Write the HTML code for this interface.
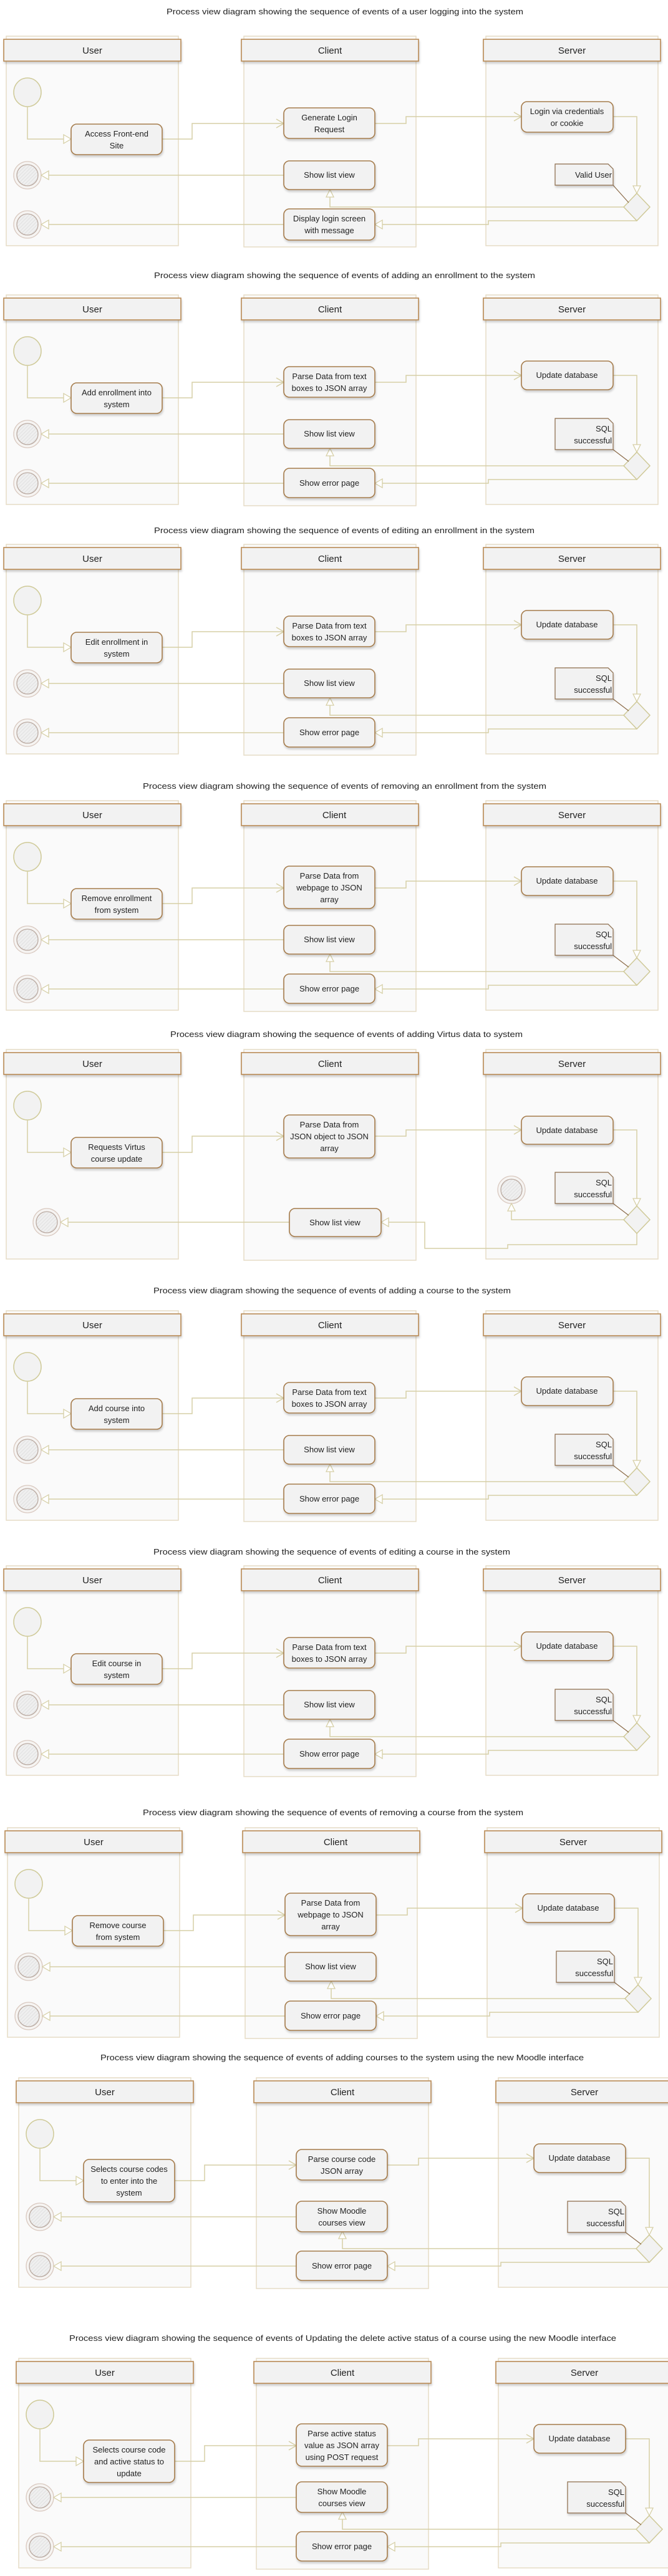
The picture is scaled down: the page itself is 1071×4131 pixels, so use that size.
<!DOCTYPE html>
<html><head><meta charset="utf-8">
<style>
html,body{margin:0;padding:0;background:#fff;}
svg{display:block;}
.ti{font-family:"Liberation Sans Narrow","Liberation Sans",sans-serif;font-size:12.5px;fill:#222;}
.h{font-family:"Liberation Sans Narrow","Liberation Sans",sans-serif;font-size:15px;fill:#222;text-anchor:middle;}
.t{font-family:"Liberation Sans Narrow","Liberation Sans",sans-serif;font-size:13px;fill:#222;text-anchor:middle;}
.n{font-family:"Liberation Sans Narrow","Liberation Sans",sans-serif;font-size:13px;fill:#222;text-anchor:end;}
.bx{fill:#f2f2f2;stroke:#a57b4c;stroke-width:1.6;filter:url(#sh);}
.c{fill:none;stroke:#d6cfa6;stroke-width:1.5;}
.a{fill:#fff;stroke:#d6cfa6;stroke-width:1.3;}
.nt{fill:#f2f2f2;stroke:#8a6a48;stroke-width:1.2;filter:url(#sh);}
</style></head>
<body>
<svg width="1071" height="4131" viewBox="0 0 1071 4131" xmlns="http://www.w3.org/2000/svg">
<defs>
<filter id="sh" x="-10%" y="-10%" width="130%" height="140%">
<feDropShadow dx="1" dy="3" stdDeviation="1.5" flood-color="#000" flood-opacity="0.18"/>
</filter>
<pattern id="hatch" width="4" height="4" patternUnits="userSpaceOnUse" patternTransform="rotate(45)">
<rect width="4" height="4" fill="#efefef"/><line x1="0" y1="0" x2="0" y2="4" stroke="#dcdcdc" stroke-width="1.5"/>
</pattern>
<g id="lanes">
<rect x="10" y="-5" width="276" height="336" fill="#fafafa" stroke="#e6dcc6" stroke-width="1.5"/>
<rect x="391" y="-5" width="276" height="338" fill="#fafafa" stroke="#e6dcc6" stroke-width="1.5"/>
<rect x="779" y="-5" width="276" height="336" fill="#fafafa" stroke="#e6dcc6" stroke-width="1.5"/>
<rect x="6" y="0" width="284" height="35" fill="#f2f2f2" stroke="#b98a55" stroke-width="1.6" filter="url(#sh)"/>
<rect x="387" y="0" width="284" height="35" fill="#f2f2f2" stroke="#b98a55" stroke-width="1.6" filter="url(#sh)"/>
<rect x="775" y="0" width="284" height="35" fill="#f2f2f2" stroke="#b98a55" stroke-width="1.6" filter="url(#sh)"/>
<ellipse cx="44" cy="85" rx="22" ry="23" fill="#f2f2f2" stroke="#cfca98" stroke-width="1.5"/>
</g>
<g id="flow">
<circle cx="44" cy="218" r="22" fill="#f6f4f2" stroke="#d9c9c0" stroke-width="1.3"/>
<circle cx="44" cy="218" r="17" fill="url(#hatch)" stroke="#b9a9a0" stroke-width="1.3"/>
<circle cx="44" cy="297" r="22" fill="#f6f4f2" stroke="#d9c9c0" stroke-width="1.3"/>
<circle cx="44" cy="297" r="17" fill="url(#hatch)" stroke="#b9a9a0" stroke-width="1.3"/>
<path class="c" d="M44,108 V160 H102"/>
<polygon class="a" points="102,153 114,160 102,167"/>
<path class="c" d="M260,160 H308 V135 H455"/>
<polyline class="c" points="443,128 455,135 443,142"/>
<path class="c" d="M601,135 H651 V124 H836"/>
<polyline class="c" points="824,117 836,124 824,131"/>
<path class="c" d="M983,124 H1021 V235"/>
<polygon class="a" points="1015,235 1021,247 1027,235"/>
<path class="c" d="M1000,269 H529 V253"/>
<polygon class="a" points="523,253 529,241 535,253"/>
<path class="c" d="M1021,291 H783 V297 H613"/>
<polygon class="a" points="613,290 601,297 613,304"/>
<path class="c" d="M455,218 H78"/>
<polygon class="a" points="78,211 66,218 78,225"/>
<path class="c" d="M455,297 H78"/>
<polygon class="a" points="78,290 66,297 78,304"/>
<polygon points="1021,247 1042,269 1021,291 1000,269" fill="#f2f2f2" stroke="#cfc998" stroke-width="1.5"/>
</g>
</defs>

<!-- D1 -->
<text class="ti" x="267" y="23" textLength="572" lengthAdjust="spacingAndGlyphs">Process view diagram showing the sequence of events of a user logging into the system</text>
<g transform="translate(0,63)">
<use href="#lanes"/><use href="#flow"/>
<text class="h" x="148" y="23">User</text><text class="h" x="529" y="23">Client</text><text class="h" x="917" y="23">Server</text>
<rect class="bx" x="114" y="136" width="146" height="49" rx="9"/>
<text class="t" x="187" y="156">Access Front-end</text><text class="t" x="187" y="175">Site</text>
<rect class="bx" x="455" y="110" width="146" height="49" rx="9"/>
<text class="t" x="528" y="130">Generate Login</text><text class="t" x="528" y="149">Request</text>
<rect class="bx" x="836" y="100" width="147" height="49" rx="9"/>
<text class="t" x="909" y="120">Login via credentials</text><text class="t" x="909" y="139">or cookie</text>
<rect class="bx" x="455" y="195" width="146" height="46" rx="9"/>
<text class="t" x="528" y="222">Show list view</text>
<rect class="bx" x="455" y="272" width="146" height="50" rx="9"/>
<text class="t" x="528" y="292">Display login screen</text><text class="t" x="528" y="311">with message</text>
<path d="M983,234 L1008,262" stroke="#8a6a48" stroke-width="1.2"/>
<path class="nt" d="M890,200 H975 L983,208 V234 H890 Z"/>
<text class="n" x="981" y="222">Valid User</text>
</g>

<!-- D2 -->
<text class="ti" x="247" y="446" textLength="611" lengthAdjust="spacingAndGlyphs">Process view diagram showing the sequence of events of adding an enrollment to the system</text>
<g transform="translate(0,478)">
<use href="#lanes"/><use href="#flow"/>
<text class="h" x="148" y="23">User</text><text class="h" x="529" y="23">Client</text><text class="h" x="917" y="23">Server</text>
<rect class="bx" x="114" y="136" width="146" height="49" rx="9"/>
<text class="t" x="187" y="156">Add enrollment into</text><text class="t" x="187" y="175">system</text>
<rect class="bx" x="455" y="110" width="146" height="49" rx="9"/>
<text class="t" x="528" y="130">Parse Data from text</text><text class="t" x="528" y="149">boxes to JSON array</text>
<rect class="bx" x="836" y="101" width="147" height="46" rx="9"/>
<text class="t" x="909" y="128">Update database</text>
<rect class="bx" x="455" y="195" width="146" height="46" rx="9"/>
<text class="t" x="528" y="222">Show list view</text>
<rect class="bx" x="455" y="273" width="146" height="47" rx="9"/>
<text class="t" x="528" y="301">Show error page</text>
<path d="M983,243 L1008,262" stroke="#8a6a48" stroke-width="1.2"/>
<path class="nt" d="M890,193 H975 L983,201 V243 H890 Z"/>
<text class="n" x="981" y="214">SQL</text><text class="n" x="981" y="233">successful</text>
</g>

<!-- D3 -->
<text class="ti" x="247" y="855" textLength="610" lengthAdjust="spacingAndGlyphs">Process view diagram showing the sequence of events of editing an enrollment in the system</text>
<g transform="translate(0,878)">
<use href="#lanes"/><use href="#flow"/>
<text class="h" x="148" y="23">User</text><text class="h" x="529" y="23">Client</text><text class="h" x="917" y="23">Server</text>
<rect class="bx" x="114" y="136" width="146" height="49" rx="9"/>
<text class="t" x="187" y="156">Edit enrollment in</text><text class="t" x="187" y="175">system</text>
<rect class="bx" x="455" y="110" width="146" height="49" rx="9"/>
<text class="t" x="528" y="130">Parse Data from text</text><text class="t" x="528" y="149">boxes to JSON array</text>
<rect class="bx" x="836" y="101" width="147" height="46" rx="9"/>
<text class="t" x="909" y="128">Update database</text>
<rect class="bx" x="455" y="195" width="146" height="46" rx="9"/>
<text class="t" x="528" y="222">Show list view</text>
<rect class="bx" x="455" y="273" width="146" height="47" rx="9"/>
<text class="t" x="528" y="301">Show error page</text>
<path d="M983,243 L1008,262" stroke="#8a6a48" stroke-width="1.2"/>
<path class="nt" d="M890,193 H975 L983,201 V243 H890 Z"/>
<text class="n" x="981" y="214">SQL</text><text class="n" x="981" y="233">successful</text>
</g>

<!-- D4 -->
<text class="ti" x="229" y="1265" textLength="647" lengthAdjust="spacingAndGlyphs">Process view diagram showing the sequence of events of removing an enrollment from the system</text>
<g transform="translate(0,1289)">
<use href="#lanes"/><use href="#flow"/>
<text class="h" x="148" y="23">User</text><text class="h" x="536" y="23">Client</text><text class="h" x="917" y="23">Server</text>
<rect class="bx" x="114" y="136" width="146" height="49" rx="9"/>
<text class="t" x="187" y="156">Remove enrollment</text><text class="t" x="187" y="175">from system</text>
<rect class="bx" x="455" y="100" width="146" height="68" rx="9"/>
<text class="t" x="528" y="120">Parse Data from</text><text class="t" x="528" y="139">webpage to JSON</text><text class="t" x="528" y="158">array</text>
<rect class="bx" x="836" y="101" width="147" height="46" rx="9"/>
<text class="t" x="909" y="128">Update database</text>
<rect class="bx" x="455" y="195" width="146" height="46" rx="9"/>
<text class="t" x="528" y="222">Show list view</text>
<rect class="bx" x="455" y="273" width="146" height="47" rx="9"/>
<text class="t" x="528" y="301">Show error page</text>
<path d="M983,243 L1008,262" stroke="#8a6a48" stroke-width="1.2"/>
<path class="nt" d="M890,193 H975 L983,201 V243 H890 Z"/>
<text class="n" x="981" y="214">SQL</text><text class="n" x="981" y="233">successful</text>
</g>

<!-- D5 -->
<text class="ti" x="273" y="1663" textLength="565" lengthAdjust="spacingAndGlyphs">Process view diagram showing the sequence of events of adding Virtus data to system</text>
<g transform="translate(0,1688)">
<use href="#lanes"/>
<text class="h" x="148" y="23">User</text><text class="h" x="529" y="23">Client</text><text class="h" x="917" y="23">Server</text>
<circle cx="75" cy="272" r="22" fill="#f6f4f2" stroke="#d9c9c0" stroke-width="1.3"/>
<circle cx="75" cy="272" r="17" fill="url(#hatch)" stroke="#b9a9a0" stroke-width="1.3"/>
<circle cx="820" cy="220" r="22" fill="#f6f4f2" stroke="#d9c9c0" stroke-width="1.3"/>
<circle cx="820" cy="220" r="17" fill="url(#hatch)" stroke="#b9a9a0" stroke-width="1.3"/>
<path class="c" d="M44,108 V160 H102"/>
<polygon class="a" points="102,153 114,160 102,167"/>
<path class="c" d="M260,160 H308 V134 H455"/>
<polyline class="c" points="443,127 455,134 443,141"/>
<path class="c" d="M601,134 H651 V124 H836"/>
<polyline class="c" points="824,117 836,124 824,131"/>
<path class="c" d="M983,124 H1021 V234"/>
<polygon class="a" points="1015,234 1021,246 1027,234"/>
<path class="c" d="M1000,268 H820 V254"/>
<polygon class="a" points="814,254 820,242 826,254"/>
<path class="c" d="M1021,290 V308 H814 V314 H681 V272 H623"/>
<polygon class="a" points="623,265 611,272 623,279"/>
<path class="c" d="M464,272 H109"/>
<polygon class="a" points="109,265 97,272 109,279"/>
<polygon points="1021,246 1042,268 1021,290 1000,268" fill="#f2f2f2" stroke="#cfc998" stroke-width="1.5"/>
<rect class="bx" x="114" y="136" width="146" height="49" rx="9"/>
<text class="t" x="187" y="156">Requests Virtus</text><text class="t" x="187" y="175">course update</text>
<rect class="bx" x="455" y="100" width="146" height="69" rx="9"/>
<text class="t" x="528" y="120">Parse Data from</text><text class="t" x="528" y="139">JSON object to JSON</text><text class="t" x="528" y="158">array</text>
<rect class="bx" x="836" y="102" width="147" height="45" rx="9"/>
<text class="t" x="909" y="129">Update database</text>
<rect class="bx" x="464" y="250" width="147" height="45" rx="9"/>
<text class="t" x="537" y="277">Show list view</text>
<path d="M983,242 L1008,261" stroke="#8a6a48" stroke-width="1.2"/>
<path class="nt" d="M890,192 H975 L983,200 V242 H890 Z"/>
<text class="n" x="981" y="213">SQL</text><text class="n" x="981" y="232">successful</text>
</g>

<!-- D6 -->
<text class="ti" x="246" y="2074" textLength="573" lengthAdjust="spacingAndGlyphs">Process view diagram showing the sequence of events of adding a course to the system</text>
<g transform="translate(0,2107)">
<use href="#lanes"/><use href="#flow"/>
<text class="h" x="148" y="23">User</text><text class="h" x="529" y="23">Client</text><text class="h" x="917" y="23">Server</text>
<rect class="bx" x="114" y="136" width="146" height="49" rx="9"/>
<text class="t" x="187" y="156">Add course into</text><text class="t" x="187" y="175">system</text>
<rect class="bx" x="455" y="110" width="146" height="49" rx="9"/>
<text class="t" x="528" y="130">Parse Data from text</text><text class="t" x="528" y="149">boxes to JSON array</text>
<rect class="bx" x="836" y="101" width="147" height="46" rx="9"/>
<text class="t" x="909" y="128">Update database</text>
<rect class="bx" x="455" y="195" width="146" height="46" rx="9"/>
<text class="t" x="528" y="222">Show list view</text>
<rect class="bx" x="455" y="273" width="146" height="47" rx="9"/>
<text class="t" x="528" y="301">Show error page</text>
<path d="M983,243 L1008,262" stroke="#8a6a48" stroke-width="1.2"/>
<path class="nt" d="M890,193 H975 L983,201 V243 H890 Z"/>
<text class="n" x="981" y="214">SQL</text><text class="n" x="981" y="233">successful</text>
</g>

<!-- D7 -->
<text class="ti" x="246" y="2493" textLength="572" lengthAdjust="spacingAndGlyphs">Process view diagram showing the sequence of events of editing a course in the system</text>
<g transform="translate(0,2516)">
<use href="#lanes"/><use href="#flow"/>
<text class="h" x="148" y="23">User</text><text class="h" x="529" y="23">Client</text><text class="h" x="917" y="23">Server</text>
<rect class="bx" x="114" y="136" width="146" height="49" rx="9"/>
<text class="t" x="187" y="156">Edit course in</text><text class="t" x="187" y="175">system</text>
<rect class="bx" x="455" y="110" width="146" height="49" rx="9"/>
<text class="t" x="528" y="130">Parse Data from text</text><text class="t" x="528" y="149">boxes to JSON array</text>
<rect class="bx" x="836" y="101" width="147" height="46" rx="9"/>
<text class="t" x="909" y="128">Update database</text>
<rect class="bx" x="455" y="195" width="146" height="46" rx="9"/>
<text class="t" x="528" y="222">Show list view</text>
<rect class="bx" x="455" y="273" width="146" height="47" rx="9"/>
<text class="t" x="528" y="301">Show error page</text>
<path d="M983,243 L1008,262" stroke="#8a6a48" stroke-width="1.2"/>
<path class="nt" d="M890,193 H975 L983,201 V243 H890 Z"/>
<text class="n" x="981" y="214">SQL</text><text class="n" x="981" y="233">successful</text>
</g>

<!-- D8 -->
<text class="ti" x="229" y="2911" textLength="610" lengthAdjust="spacingAndGlyphs">Process view diagram showing the sequence of events of removing a course from the system</text>
<g transform="translate(2,2936)">
<use href="#lanes"/><use href="#flow"/>
<text class="h" x="148" y="23">User</text><text class="h" x="536" y="23">Client</text><text class="h" x="917" y="23">Server</text>
<rect class="bx" x="114" y="136" width="146" height="49" rx="9"/>
<text class="t" x="187" y="156">Remove course</text><text class="t" x="187" y="175">from system</text>
<rect class="bx" x="455" y="100" width="146" height="68" rx="9"/>
<text class="t" x="528" y="120">Parse Data from</text><text class="t" x="528" y="139">webpage to JSON</text><text class="t" x="528" y="158">array</text>
<rect class="bx" x="836" y="101" width="147" height="46" rx="9"/>
<text class="t" x="909" y="128">Update database</text>
<rect class="bx" x="455" y="195" width="146" height="46" rx="9"/>
<text class="t" x="528" y="222">Show list view</text>
<rect class="bx" x="455" y="273" width="146" height="47" rx="9"/>
<text class="t" x="528" y="301">Show error page</text>
<path d="M983,243 L1008,262" stroke="#8a6a48" stroke-width="1.2"/>
<path class="nt" d="M890,193 H975 L983,201 V243 H890 Z"/>
<text class="n" x="981" y="214">SQL</text><text class="n" x="981" y="233">successful</text>
</g>

<!-- D9 -->
<text class="ti" x="161" y="3304" textLength="775" lengthAdjust="spacingAndGlyphs">Process view diagram showing the sequence of events of adding courses to the system using the new Moodle interface</text>
<g transform="translate(20,3337)">
<use href="#lanes"/><use href="#flow"/>
<text class="h" x="148" y="23">User</text><text class="h" x="529" y="23">Client</text><text class="h" x="917" y="23">Server</text>
<rect class="bx" x="114" y="126" width="146" height="68" rx="9"/>
<text class="t" x="187" y="146">Selects course codes</text><text class="t" x="187" y="165">to enter into the</text><text class="t" x="187" y="184">system</text>
<rect class="bx" x="455" y="110" width="146" height="49" rx="9"/>
<text class="t" x="528" y="130">Parse course code</text><text class="t" x="528" y="149">JSON array</text>
<rect class="bx" x="836" y="101" width="147" height="46" rx="9"/>
<text class="t" x="909" y="128">Update database</text>
<rect class="bx" x="455" y="193" width="146" height="49" rx="9"/>
<text class="t" x="528" y="213">Show Moodle</text><text class="t" x="528" y="232">courses view</text>
<rect class="bx" x="455" y="273" width="146" height="47" rx="9"/>
<text class="t" x="528" y="301">Show error page</text>
<path d="M983,243 L1008,262" stroke="#8a6a48" stroke-width="1.2"/>
<path class="nt" d="M890,193 H975 L983,201 V243 H890 Z"/>
<text class="n" x="981" y="214">SQL</text><text class="n" x="981" y="233">successful</text>
</g>

<!-- D10 -->
<text class="ti" x="111" y="3754" textLength="877" lengthAdjust="spacingAndGlyphs">Process view diagram showing the sequence of events of Updating the delete active status of a course using the new Moodle interface</text>
<g transform="translate(20,3787)">
<use href="#lanes"/><use href="#flow"/>
<text class="h" x="148" y="23">User</text><text class="h" x="529" y="23">Client</text><text class="h" x="917" y="23">Server</text>
<rect class="bx" x="114" y="126" width="146" height="68" rx="9"/>
<text class="t" x="187" y="146">Selects course code</text><text class="t" x="187" y="165">and active status to</text><text class="t" x="187" y="184">update</text>
<rect class="bx" x="455" y="100" width="146" height="68" rx="9"/>
<text class="t" x="528" y="120">Parse active status</text><text class="t" x="528" y="139">value as JSON array</text><text class="t" x="528" y="158">using POST request</text>
<rect class="bx" x="836" y="101" width="147" height="46" rx="9"/>
<text class="t" x="909" y="128">Update database</text>
<rect class="bx" x="455" y="193" width="146" height="49" rx="9"/>
<text class="t" x="528" y="213">Show Moodle</text><text class="t" x="528" y="232">courses view</text>
<rect class="bx" x="455" y="273" width="146" height="47" rx="9"/>
<text class="t" x="528" y="301">Show error page</text>
<path d="M983,243 L1008,262" stroke="#8a6a48" stroke-width="1.2"/>
<path class="nt" d="M890,193 H975 L983,201 V243 H890 Z"/>
<text class="n" x="981" y="214">SQL</text><text class="n" x="981" y="233">successful</text>
</g>
</svg>
</body></html>
